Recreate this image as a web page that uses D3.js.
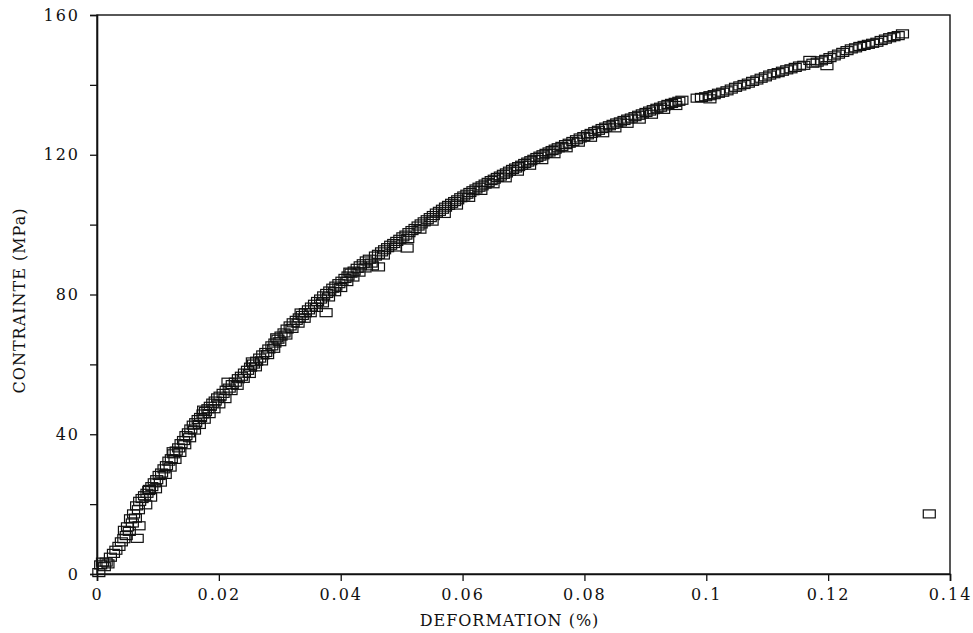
<!DOCTYPE html>
<html>
<head>
<meta charset="utf-8">
<script src="https://cdn.jsdelivr.net/npm/d3@7"></script>
<style>
  html, body { margin: 0; padding: 0; background: #fff; }
  svg { display: block; }
</style>
</head>
<body>
<svg id="chart" width="973" height="633"></svg>
<script>
// ---- Data ----
const strain = [
  0.0003, 0.0006, 0.0009, 0.0012, 0.0015, 0.0018, 0.0022, 0.0027, 0.0031, 0.0036,
  0.0040, 0.0044, 0.0048, 0.0050, 0.0053, 0.0055, 0.0058, 0.0060, 0.0063, 0.0065,
  0.0068, 0.0070, 0.0074, 0.0078, 0.0082, 0.0086, 0.0090, 0.0094, 0.0098, 0.0102,
  0.0106, 0.0110, 0.0114, 0.0118, 0.0122, 0.0126, 0.0130, 0.0134, 0.0138, 0.0142,
  0.0146, 0.0150, 0.0154, 0.0158, 0.0162, 0.0166, 0.0170, 0.0174, 0.0178, 0.0182,
  0.0186, 0.0190, 0.0194, 0.0198, 0.0202, 0.0207, 0.0212, 0.0217, 0.0222, 0.0227,
  0.0232, 0.0237, 0.0242, 0.0247, 0.0252, 0.0257, 0.0262, 0.0267, 0.0272, 0.0277,
  0.0282, 0.0287, 0.0292, 0.0297, 0.0302, 0.0307, 0.0312, 0.0317, 0.0322, 0.0327,
  0.0332, 0.0337, 0.0342, 0.0347, 0.0352, 0.0357, 0.0362, 0.0367, 0.0372, 0.0376,
  0.0377, 0.0382, 0.0387, 0.0392, 0.0397, 0.0402, 0.0407, 0.0412, 0.0417, 0.0422,
  0.0427, 0.0432, 0.0437, 0.0442, 0.0447, 0.0452, 0.0462, 0.0457, 0.0462, 0.0467,
  0.0472, 0.0477, 0.0482, 0.0487, 0.0492, 0.0497, 0.0502, 0.0509, 0.0507, 0.0512,
  0.0517, 0.0522, 0.0527, 0.0532, 0.0537, 0.0542, 0.0547, 0.0552, 0.0557, 0.0562,
  0.0567, 0.0572, 0.0577, 0.0582, 0.0587, 0.0592, 0.0597, 0.0602, 0.0607, 0.0612,
  0.0617, 0.0622, 0.0627, 0.0632, 0.0637, 0.0642, 0.0647, 0.0652, 0.0657, 0.0662,
  0.0667, 0.0672, 0.0677, 0.0682, 0.0687, 0.0692, 0.0697, 0.0702, 0.0707, 0.0712,
  0.0717, 0.0722, 0.0727, 0.0732, 0.0737, 0.0742, 0.0747, 0.0752, 0.0757, 0.0763,
  0.0769, 0.0775, 0.0781, 0.0787, 0.0793, 0.0799, 0.0805, 0.0811, 0.0817, 0.0823,
  0.0829, 0.0835, 0.0841, 0.0847, 0.0853, 0.0859, 0.0865, 0.0871, 0.0877, 0.0883,
  0.0889, 0.0895, 0.0901, 0.0907, 0.0913, 0.0919, 0.0925, 0.0931, 0.0937, 0.0943,
  0.0949, 0.0955, 0.0960, 0.0985, 0.0992, 0.0999, 0.1006, 0.1013, 0.1020, 0.1027,
  0.1034, 0.1041, 0.1048, 0.1055, 0.1062, 0.1069, 0.1076, 0.1083, 0.1090, 0.1097,
  0.1104, 0.1111, 0.1118, 0.1125, 0.1132, 0.1139, 0.1146, 0.1153, 0.1160, 0.1175,
  0.1182, 0.1189, 0.1196, 0.1198, 0.1203, 0.1210, 0.1217, 0.1224, 0.1231, 0.1238,
  0.1245, 0.1252, 0.1259, 0.1266, 0.1273, 0.1280, 0.1287, 0.1294, 0.1301, 0.1308,
  0.1315, 0.1322, 0.1366,
  0.0045, 0.0066, 0.0069, 0.0080, 0.0088, 0.0096, 0.0104, 0.0112, 0.0120, 0.0128,
  0.0136, 0.0144, 0.0152, 0.0160, 0.0168, 0.0176, 0.0184, 0.0192, 0.0200, 0.0210,
  0.0220, 0.0230, 0.0240, 0.0250, 0.0260, 0.0270, 0.0280, 0.0290, 0.0300, 0.0310,
  0.0320, 0.0330, 0.0340, 0.0350, 0.0360, 0.0370, 0.0380, 0.0390, 0.0400, 0.0410,
  0.0420, 0.0430, 0.0440, 0.0450, 0.0470, 0.0490, 0.0510, 0.0530, 0.0550, 0.0570,
  0.0590, 0.0610, 0.0630, 0.0650, 0.0670, 0.0690, 0.0710, 0.0730, 0.0750, 0.0770,
  0.0790, 0.0810, 0.0830, 0.0850, 0.0870, 0.0890, 0.0910, 0.0930, 0.0950, 0.1006,
  0.1170, 0.0085, 0.0125, 0.0175, 0.0215, 0.0255, 0.0295, 0.0335, 0.0415
];
const stress = [
  0.4, 2.6, 3.4, 2.1, 3.4, 2.9, 4.8, 5.9, 6.8, 7.9,
  9.2, 10.1, 11.0, 13.5, 12.2, 15.8, 14.6, 17.2, 16.0, 19.5,
  18.4, 20.8, 21.6, 22.4, 23.1, 24.2, 25.0, 26.1, 27.0, 28.2,
  28.9, 30.1, 31.0, 32.3, 33.0, 34.4, 35.2, 36.1, 37.3, 38.2,
  39.6, 40.4, 41.5, 42.6, 43.3, 44.2, 44.8, 45.8, 46.5, 47.3,
  48.0, 48.9, 49.5, 50.4, 50.9, 51.7, 52.6, 53.2, 54.2, 54.9,
  55.9, 56.6, 57.5, 58.3, 59.2, 60.1, 60.9, 61.8, 62.7, 63.4,
  64.4, 65.3, 66.1, 67.2, 68.1, 69.0, 70.1, 71.0, 71.9, 72.6,
  73.3, 74.0, 74.8, 75.6, 76.4, 77.2, 78.0, 78.7, 79.6, 74.8,
  80.3, 81.0, 81.8, 82.4, 83.1, 83.8, 84.6, 85.3, 86.1, 86.7,
  87.5, 88.2, 88.8, 89.6, 90.1, 88.2, 87.9, 91.0, 91.5, 92.2,
  92.8, 93.4, 94.1, 94.6, 95.2, 95.8, 96.5, 93.3, 97.0, 97.7,
  98.3, 98.9, 99.6, 100.2, 100.8, 101.4, 102.0, 102.6, 103.3, 103.8,
  104.4, 105.0, 105.5, 106.1, 106.6, 107.1, 107.7, 108.2, 108.7, 109.2,
  109.7, 110.2, 110.7, 111.1, 111.6, 112.1, 112.6, 113.0, 113.5, 113.9,
  114.4, 114.8, 115.3, 115.8, 116.2, 116.6, 117.0, 117.5, 117.9, 118.3,
  118.7, 119.2, 119.6, 120.0, 120.4, 120.8, 121.2, 121.6, 122.0, 122.4,
  122.9, 123.3, 123.8, 124.3, 124.8, 125.2, 125.7, 126.1, 126.6, 127.0,
  127.5, 127.9, 128.3, 128.7, 129.1, 129.4, 129.8, 130.2, 130.5, 130.9,
  131.3, 131.7, 132.1, 132.5, 132.9, 133.3, 133.6, 134.0, 134.4, 134.7,
  135.0, 135.3, 135.6, 136.2, 136.4, 136.6, 136.9, 137.2, 137.6, 137.9,
  138.3, 138.8, 139.3, 139.7, 140.1, 140.5, 141.0, 141.4, 141.9, 142.3,
  142.8, 143.2, 143.5, 143.9, 144.3, 144.6, 145.0, 145.4, 145.6, 146.2,
  146.5, 146.9, 147.3, 145.5, 147.8, 148.3, 148.8, 149.3, 149.8, 150.3,
  150.6, 151.0, 151.3, 151.6, 151.9, 152.2, 152.7, 153.1, 153.5, 153.8,
  154.1, 154.6, 17.2,
  12.5, 10.2, 13.8, 19.8, 22.0, 24.4, 26.3, 28.5, 30.6, 32.8,
  34.8, 37.0, 39.0, 41.2, 42.8, 44.3, 45.9, 47.3, 48.7, 50.2,
  52.5, 54.0, 56.0, 57.4, 59.3, 61.0, 62.8, 64.6, 66.5, 68.4,
  70.3, 71.8, 73.2, 74.8, 76.3, 77.6, 79.3, 80.8, 82.0, 83.7,
  85.0, 86.4, 87.6, 89.0, 91.3, 93.6, 96.0, 98.7, 101.0, 103.2,
  105.6, 107.8, 109.8, 111.7, 113.4, 115.3, 117.0, 118.6, 120.3, 122.0,
  123.6, 125.0, 126.3, 127.7, 129.0, 130.2, 131.6, 133.0, 134.1, 136.0,
  147.0, 23.9, 35.0, 46.9, 54.9, 60.7, 67.6, 74.7, 86.4
];
const xTickValues = [0, 0.02, 0.04, 0.06, 0.08, 0.1, 0.12, 0.14];
const xTickLabels = ["0", "0.02", "0.04", "0.06", "0.08", "0.1", "0.12", "0.14"];
const yTickValues = [0, 40, 80, 120, 160];
const yTickLabels = ["0", "40", "80", "120", "160"];
const yMinorTicks = [20, 60, 100, 140];
const xTitle = "DEFORMATION (%)";
const yTitle = "CONTRAINTE (MPa)";

// ---- Layout ----
const mLeft = 97, mRight = 950, mTop = 15, mBottom = 574;
const svg = d3.select("#chart");
const x = d3.scaleLinear().domain([0, 0.14]).range([mLeft, mRight]);
const y = d3.scaleLinear().domain([0, 160]).range([mBottom, mTop]);
const font = "'DejaVu Serif', 'Liberation Serif', serif";

// Frame (top & right)
svg.append("rect")
  .attr("x", mLeft).attr("y", mTop)
  .attr("width", mRight - mLeft).attr("height", mBottom - mTop)
  .attr("fill", "none").attr("stroke", "#111").attr("stroke-width", 1.4);

// X axis
const xAxis = d3.axisBottom(x)
  .tickValues(xTickValues)
  .tickFormat((d, i) => xTickLabels[i])
  .tickSizeOuter(0).tickSize(7).tickPadding(8);
const gx = svg.append("g").attr("transform", `translate(0,${mBottom})`).call(xAxis);
gx.select(".domain").attr("stroke", "#111").attr("stroke-width", 1.6);
gx.selectAll(".tick line").attr("stroke", "#111").attr("stroke-width", 1.3);
gx.selectAll(".tick text")
  .attr("font-family", font).attr("font-size", 16).attr("fill", "#111")
  .style("letter-spacing", "2px");

// Y axis
const yAxis = d3.axisLeft(y)
  .tickValues(yTickValues)
  .tickFormat((d, i) => yTickLabels[i])
  .tickSizeOuter(0).tickSize(7).tickPadding(10);
const gy = svg.append("g").attr("transform", `translate(${mLeft},0)`).call(yAxis);
gy.select(".domain").attr("stroke", "#111").attr("stroke-width", 1.6);
gy.selectAll(".tick line").attr("stroke", "#111").attr("stroke-width", 1.3);
gy.selectAll(".tick text")
  .attr("font-family", font).attr("font-size", 16).attr("fill", "#111")
  .style("letter-spacing", "2px");

// Y minor ticks
const yMinor = d3.axisLeft(y).tickValues(yMinorTicks).tickFormat("").tickSizeOuter(0).tickSize(7);
const gym = svg.append("g").attr("transform", `translate(${mLeft},0)`).call(yMinor);
gym.select(".domain").remove();
gym.selectAll(".tick line").attr("stroke", "#111").attr("stroke-width", 1.3);

// Titles
svg.append("text")
  .attr("x", (mLeft + mRight) / 2 - 14).attr("y", 626)
  .attr("text-anchor", "middle")
  .attr("font-family", font).attr("font-size", 16).attr("fill", "#111")
  .style("letter-spacing", "1px")
  .text(xTitle);
svg.append("text")
  .attr("transform", `translate(25,${(mTop + mBottom) / 2 + 6}) rotate(-90)`)
  .attr("text-anchor", "middle")
  .attr("font-family", font).attr("font-size", 16).attr("fill", "#111")
  .style("letter-spacing", "1px")
  .text(yTitle);

// Markers: open squares
const pts = strain.map((s, i) => ({ s, v: stress[i] }));
const mw = 12, mh = 8;
svg.append("g").selectAll("rect")
  .data(pts).join("rect")
  .attr("x", d => x(d.s) - mw / 2)
  .attr("y", d => y(d.v) - mh / 2)
  .attr("width", mw).attr("height", mh)
  .attr("fill", "none").attr("stroke", "#111").attr("stroke-width", 1.2);
</script>
</body>
</html>
